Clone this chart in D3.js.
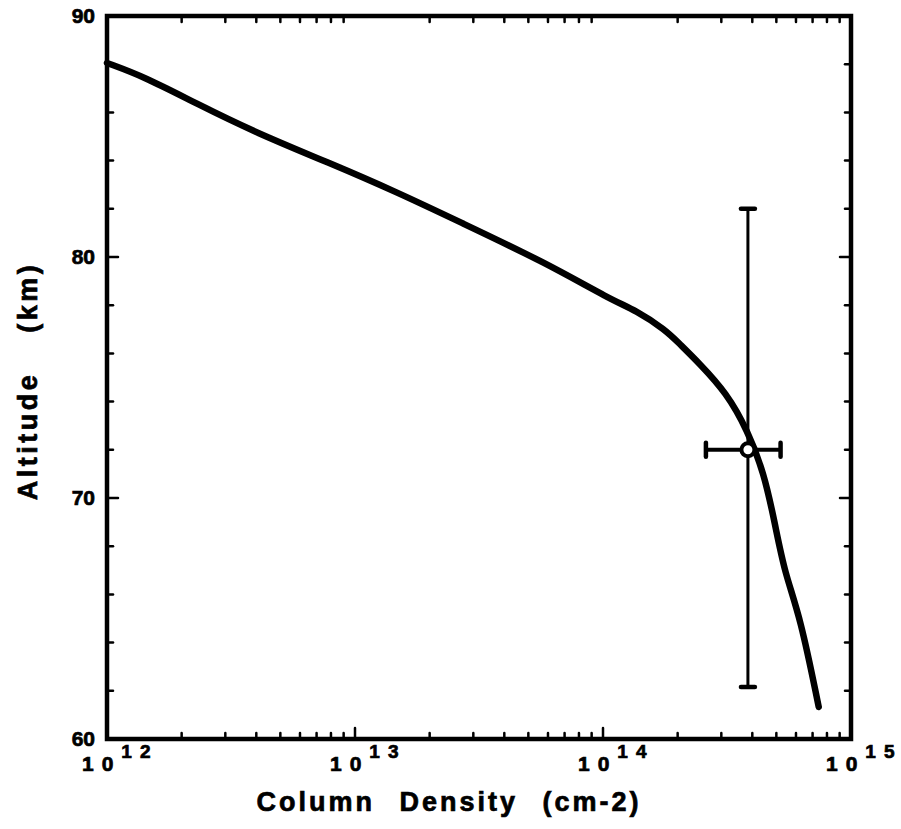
<!DOCTYPE html>
<html>
<head>
<meta charset="utf-8">
<script src="https://cdn.jsdelivr.net/npm/d3@7"></script>
<style>
  body { margin: 0; background: #fff; }
  text { font-family: "Liberation Sans", Arial, sans-serif; font-weight: bold; fill: #000;
         stroke: #000; stroke-width: 0.7px; }
</style>
</head>
<body>
<svg id="chart" width="901" height="829"></svg>
<script>
// column density profile
const density = [1.0e12, 1.42e12, 2.27e12, 4.0e12, 7.9e12, 1.47e13, 2.65e13, 5.8e13,
  1.08e14, 1.35e14, 1.79e14, 2.02e14, 2.44e14, 3.15e14, 3.82e14, 4.46e14, 4.93e14,
  5.4e14, 6.25e14, 7.41e14];
const altitude = [88.05, 87.47, 86.39, 85.15, 83.90, 82.70, 81.45, 79.79,
  78.22, 77.80, 76.97, 76.43, 75.60, 74.36, 72.82, 71.04, 68.96,
  66.89, 65.06, 61.33];

// measured point with error bars
const pointDensity = [3.84e14];
const pointAltitude = [72.0];
const errDensityLow = [2.6e14];
const errDensityHigh = [5.2e14];
const errAltLow = [62.16];
const errAltHigh = [82.0];

const yTicks = [60, 70, 80, 90];
const xDecades = [12, 13, 14, 15];

const svg = d3.select("#chart");
const pLeft = 107, pRight = 851, pTop = 16, pBottom = 739;

const x = d3.scaleLog().domain([1e12, 1e15]).range([pLeft, pRight]);
const y = d3.scaleLinear().domain([60, 90]).range([pBottom, pTop]);

// minor ticks
let minorX = [];
for (let e = 12; e < 15; e++) {
  for (let m = 2; m <= 9; m++) minorX.push(m * Math.pow(10, e));
}
let minorY = d3.range(60, 91, 2).filter(v => v % 10 != 0);

const g = svg.append("g").attr("stroke", "#000").attr("stroke-linecap", "round");

// bottom & top x ticks
g.selectAll(".xminB").data(minorX).enter().append("line")
  .attr("x1", d => x(d)).attr("x2", d => x(d))
  .attr("y1", pBottom).attr("y2", pBottom - 6).attr("stroke-width", 2.5);
g.selectAll(".xminT").data(minorX).enter().append("line")
  .attr("x1", d => x(d)).attr("x2", d => x(d))
  .attr("y1", pTop).attr("y2", pTop + 6).attr("stroke-width", 2.5);
g.selectAll(".xmajB").data(xDecades).enter().append("line")
  .attr("x1", d => x(Math.pow(10, d))).attr("x2", d => x(Math.pow(10, d)))
  .attr("y1", pBottom).attr("y2", pBottom - 11).attr("stroke-width", 2.5);

// left & right y ticks
g.selectAll(".yminL").data(minorY).enter().append("line")
  .attr("x1", pLeft).attr("x2", pLeft + 6)
  .attr("y1", d => y(d)).attr("y2", d => y(d)).attr("stroke-width", 2.5);
g.selectAll(".yminR").data(minorY).enter().append("line")
  .attr("x1", pRight).attr("x2", pRight - 6)
  .attr("y1", d => y(d)).attr("y2", d => y(d)).attr("stroke-width", 2.5);
g.selectAll(".ymajL").data(yTicks).enter().append("line")
  .attr("x1", pLeft).attr("x2", pLeft + 11)
  .attr("y1", d => y(d)).attr("y2", d => y(d)).attr("stroke-width", 2.5);
g.selectAll(".ymajR").data(yTicks).enter().append("line")
  .attr("x1", pRight).attr("x2", pRight - 11)
  .attr("y1", d => y(d)).attr("y2", d => y(d)).attr("stroke-width", 2.5);

// frame
svg.append("rect")
  .attr("x", pLeft).attr("y", pTop)
  .attr("width", pRight - pLeft).attr("height", pBottom - pTop)
  .attr("fill", "none").attr("stroke", "#000").attr("stroke-width", 4.5);

// curve
const pts = density.map((d, i) => [d, altitude[i]]);
const line = d3.line()
  .x(d => x(d[0])).y(d => y(d[1]))
  .curve(d3.curveBasis);
svg.append("path").datum(pts)
  .attr("d", line)
  .attr("fill", "none").attr("stroke", "#000")
  .attr("stroke-width", 6.5).attr("stroke-linecap", "round").attr("stroke-linejoin", "round");

// error bars
const eb = svg.append("g").attr("stroke", "#000");
pointDensity.forEach((d, i) => {
  eb.append("line")
    .attr("x1", x(d)).attr("x2", x(d))
    .attr("y1", y(errAltHigh[i])).attr("y2", y(errAltLow[i]))
    .attr("stroke-width", 3);
  eb.append("line")
    .attr("x1", x(errDensityLow[i])).attr("x2", x(errDensityHigh[i]))
    .attr("y1", y(pointAltitude[i])).attr("y2", y(pointAltitude[i]))
    .attr("stroke-width", 4);
  // caps
  [errAltHigh[i], errAltLow[i]].forEach(a => {
    eb.append("line")
      .attr("x1", x(d) - 7).attr("x2", x(d) + 7)
      .attr("y1", y(a)).attr("y2", y(a))
      .attr("stroke-width", 4.5).attr("stroke-linecap", "round");
  });
  [errDensityLow[i], errDensityHigh[i]].forEach(v => {
    eb.append("line")
      .attr("x1", x(v)).attr("x2", x(v))
      .attr("y1", y(pointAltitude[i]) - 7).attr("y2", y(pointAltitude[i]) + 7)
      .attr("stroke-width", 4.5).attr("stroke-linecap", "round");
  });
  eb.append("circle")
    .attr("cx", x(d)).attr("cy", y(pointAltitude[i])).attr("r", 6.5)
    .attr("fill", "#fff").attr("stroke-width", 4);
});

// y tick labels
svg.selectAll(".ylab").data(yTicks).enter().append("text")
  .attr("x", pLeft - 12).attr("y", d => y(d) + 7)
  .attr("text-anchor", "end").attr("font-size", 21)
  .text(d => d);

// x tick labels: 10 with superscript exponent
const xl = svg.selectAll(".xlab").data(xDecades).enter().append("text")
  .attr("x", d => x(Math.pow(10, d)) - 25).attr("y", 771)
  .attr("font-size", 21);
xl.append("tspan").attr("letter-spacing", 8).text("10");
xl.append("tspan").attr("dy", -13).attr("font-size", 19)
  .attr("letter-spacing", 8).text(d => d);

// axis titles
svg.append("text")
  .attr("x", 449).attr("y", 811)
  .attr("text-anchor", "middle").attr("font-size", 27)
  .attr("letter-spacing", 3).attr("word-spacing", 14)
  .text("Column Density (cm-2)");

svg.append("text")
  .attr("transform", "translate(37,381) rotate(-90)")
  .attr("text-anchor", "middle").attr("font-size", 27)
  .attr("letter-spacing", 3.5).attr("word-spacing", 28)
  .text("Altitude (km)");
</script>
</body>
</html>
